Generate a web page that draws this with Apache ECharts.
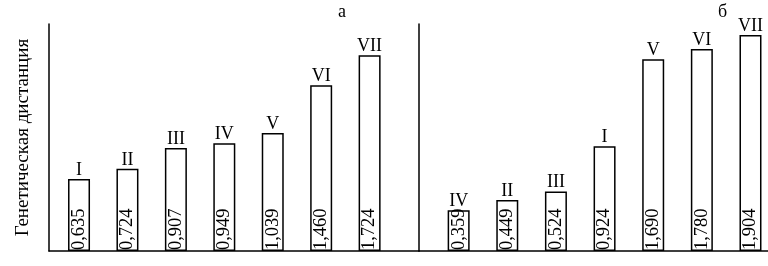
<!DOCTYPE html>
<html>
<head>
<meta charset="utf-8">
<script src="https://cdn.jsdelivr.net/npm/echarts@6/dist/echarts.min.js"></script>
<style>html,body{margin:0;padding:0;background:#fff}#c{width:768px;height:266px}</style>
</head>
<body>
<div id="c"></div>
<script>
// Panel а
const catsA = ['I', 'II', 'III', 'IV', 'V', 'VI', 'VII'];
const valsA = [0.635, 0.724, 0.907, 0.949, 1.039, 1.460, 1.724];
// Panel б
const catsB = ['IV', 'II', 'III', 'I', 'V', 'VI', 'VII'];
const valsB = [0.359, 0.449, 0.524, 0.924, 1.690, 1.780, 1.904];
const panelTitles = ['а', 'б'];
const yName = 'Генетическая дистанция';

const FONT = '"Liberation Serif", "Times New Roman", serif';
const chart = echarts.init(document.getElementById('c'), null, {renderer: 'canvas'});

function fmtVal(v) { return v.toFixed(3).replace('.', ','); }

function makeSeries(cats, vals, idx) {
  const data = vals.map((v, i) => [i + 1, v]);
  return [
    {
      type: 'bar', xAxisIndex: idx, yAxisIndex: idx,
      data: data, barWidth: 22, barGap: '-100%',
      itemStyle: {color: '#fff', borderColor: '#000', borderWidth: 1.5},
      label: {
        show: true, position: 'top', distance: 0,
        formatter: p => cats[p.dataIndex],
        color: '#000', fontFamily: FONT, fontSize: 18
      },
      silent: true
    },
    {
      type: 'bar', xAxisIndex: idx, yAxisIndex: idx,
      data: data, barWidth: 22, barGap: '-100%',
      itemStyle: {color: 'rgba(0,0,0,0)'},
      label: {
        show: true, position: 'insideBottom', rotate: 90,
        align: 'left', verticalAlign: 'middle', distance: 1,
        formatter: p => fmtVal(p.value[1]),
        color: '#000', fontFamily: FONT, fontSize: 18.5
      },
      silent: true
    }
  ];
}

const axisLine = {show: true, lineStyle: {color: '#000', width: 1.5}};

chart.setOption({
  animation: false,
  backgroundColor: '#fff',
  title: [
    {text: panelTitles[0], left: 338, top: 3, padding: 0,
     textStyle: {fontFamily: FONT, fontSize: 18, fontWeight: 'normal', color: '#000'}},
    {text: panelTitles[1], left: 718, top: 3, padding: 0,
     textStyle: {fontFamily: FONT, fontSize: 18, fontWeight: 'normal', color: '#000'}}
  ],
  grid: [
    {left: 49, top: 24, width: 370, height: 227},
    {left: 419, top: 24, right: 0, height: 227}
  ],
  xAxis: [
    {type: 'value', gridIndex: 0, min: 0.38, max: 8.02, axisLine: axisLine,
     axisTick: {show: false}, axisLabel: {show: false}, splitLine: {show: false}},
    {type: 'value', gridIndex: 1, min: 0.185, max: 7.36, axisLine: axisLine,
     axisTick: {show: false}, axisLabel: {show: false}, splitLine: {show: false}}
  ],
  yAxis: [
    {type: 'value', gridIndex: 0, min: 0, max: 2, axisLine: axisLine,
     axisTick: {show: false}, axisLabel: {show: false}, splitLine: {show: false},
     name: yName, nameLocation: 'middle', nameGap: 16,
     nameTextStyle: {fontFamily: FONT, fontSize: 19, color: '#000'}},
    {type: 'value', gridIndex: 1, min: 0, max: 2, axisLine: axisLine,
     axisTick: {show: false}, axisLabel: {show: false}, splitLine: {show: false}}
  ],
  series: [].concat(makeSeries(catsA, valsA, 0), makeSeries(catsB, valsB, 1))
});
</script>
</body>
</html>
